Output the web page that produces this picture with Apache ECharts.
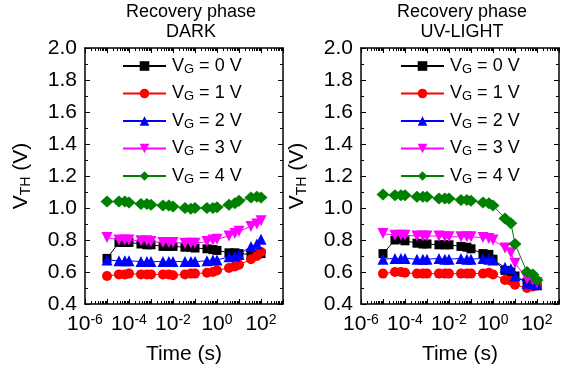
<!DOCTYPE html>
<html>
<head>
<meta charset="utf-8">
<script src="https://cdn.jsdelivr.net/npm/echarts@6/dist/echarts.min.js"></script>
<style>html,body{margin:0;padding:0;background:#fff;}#c{width:564px;height:369px;}</style>
</head>
<body>
<div id="c"></div>
<script>
// ---- data ----
var times = [1e-5, 3.5e-5, 6.5e-5, 1e-4, 3.5e-4, 6.5e-4, 1e-3, 3.5e-3, 6.5e-3, 1e-2, 3.5e-2, 6.5e-2, 1e-1, 0.35, 0.65, 1, 3.5, 6.5, 10, 35, 65, 100];
var seriesNames = ['0', '1', '2', '3', '4'];
var xLabelValues = [1e-6, 1e-4, 1e-2, 1, 100];
var yTickLabels = [0.4, 0.6, 0.8, 1.0, 1.2, 1.4, 1.6, 1.8, 2.0];
var panelTitles = ['Recovery phase\nDARK', 'Recovery phase\nUV-LIGHT'];

var dark0 = [0.685, 0.785, 0.785, 0.785, 0.775, 0.77, 0.77, 0.76, 0.76, 0.76, 0.755, 0.755, 0.75, 0.745, 0.74, 0.735, 0.72, 0.72, 0.715, 0.71, 0.71, 0.715];
var dark1 = [0.575, 0.585, 0.585, 0.59, 0.585, 0.585, 0.585, 0.585, 0.585, 0.58, 0.585, 0.59, 0.59, 0.595, 0.60, 0.61, 0.625, 0.635, 0.645, 0.68, 0.70, 0.725];
var dark2 = [0.675, 0.67, 0.67, 0.67, 0.665, 0.665, 0.665, 0.665, 0.665, 0.665, 0.665, 0.665, 0.665, 0.67, 0.675, 0.675, 0.695, 0.70, 0.71, 0.76, 0.775, 0.805];
var dark3 = [0.815, 0.80, 0.80, 0.80, 0.795, 0.795, 0.79, 0.785, 0.785, 0.785, 0.78, 0.78, 0.78, 0.79, 0.80, 0.805, 0.825, 0.84, 0.855, 0.885, 0.90, 0.92];
var dark4 = [1.04, 1.04, 1.04, 1.035, 1.025, 1.025, 1.02, 1.015, 1.015, 1.01, 1.0, 0.995, 1.0, 1.0, 1.0, 1.005, 1.02, 1.03, 1.045, 1.065, 1.07, 1.065];

var uv0 = [0.715, 0.80, 0.805, 0.795, 0.78, 0.775, 0.775, 0.77, 0.77, 0.77, 0.76, 0.755, 0.745, 0.715, 0.71, 0.68, 0.61, 0.60, 0.575, 0.535, 0.52, 0.52];
var uv1 = [0.59, 0.60, 0.60, 0.595, 0.59, 0.59, 0.59, 0.59, 0.59, 0.59, 0.59, 0.59, 0.59, 0.59, 0.595, 0.585, 0.55, 0.545, 0.52, 0.50, 0.51, 0.515];
var uv2 = [0.68, 0.685, 0.685, 0.685, 0.68, 0.68, 0.68, 0.685, 0.68, 0.68, 0.685, 0.68, 0.68, 0.685, 0.68, 0.675, 0.63, 0.62, 0.575, 0.53, 0.525, 0.52];
var uv3 = [0.84, 0.83, 0.83, 0.83, 0.825, 0.825, 0.825, 0.825, 0.82, 0.82, 0.82, 0.82, 0.82, 0.815, 0.81, 0.80, 0.75, 0.72, 0.655, 0.56, 0.55, 0.535];
var uv4 = [1.085, 1.08, 1.08, 1.08, 1.07, 1.07, 1.07, 1.06, 1.06, 1.06, 1.05, 1.05, 1.045, 1.035, 1.03, 1.015, 0.935, 0.905, 0.775, 0.60, 0.585, 0.55];

var panels = [[dark0, dark1, dark2, dark3, dark4], [uv0, uv1, uv2, uv3, uv4]];

// ---- styling ----
var FONT = 'Liberation Sans, Arial, sans-serif';
var colors = ['#000000', '#ff0000', '#0000ff', '#ff00ff', '#008000'];
var symbols = ['rect', 'circle', 'triangle', 'triangle', 'diamond'];
var symRot = [0, 0, 0, 180, 0];
var symSize = [9, 10, 11, 11, [13, 12]];
var gridLefts = [85, 361];
var legendLefts = [122, 400];
var titleCenters = [191, 462];

// axis tick positions (decoration)
var majorTicks = [], minorTicks = [];
for (var e = -6; e <= 3; e++) {
  majorTicks.push(Math.pow(10, e));
  if (e < 3) for (var m = 2; m <= 9; m++) minorTicks.push(m * Math.pow(10, e));
}

function zip(xs, ys) { return xs.map(function (x, i) { return [x, ys[i]]; }); }

var option = {
  animation: false,
  backgroundColor: '#ffffff',
  textStyle: { fontFamily: FONT },
  title: [], legend: [], grid: [], xAxis: [], yAxis: [], series: []
};

var black = { color: '#000' };
for (var g = 0; g < 2; g++) {
  option.title.push({
    text: panelTitles[g], left: titleCenters[g], top: 0, textAlign: 'center', padding: [2, 0, 0, 0],
    textStyle: { fontFamily: FONT, fontSize: 18, fontWeight: 'normal', color: '#000', lineHeight: 20 }
  });
  option.grid.push({ left: gridLefts[g], top: 48, width: 198, height: 256, containLabel: false, outerBoundsMode: 'none' });
  var base = { type: 'log', logBase: 10, min: 1e-6, max: 1e3, gridIndex: g, splitLine: { show: false } };
  // bottom major (with labels)
  option.xAxis.push(Object.assign({}, base, {
    position: 'bottom',
    axisLine: { show: true, onZero: false, lineStyle: { color: '#000', width: 1.5 } },
    axisTick: { show: true, inside: true, length: 5, customValues: majorTicks, lineStyle: black },
    axisLabel: {
      customValues: xLabelValues, margin: 9, color: '#000', fontFamily: FONT, fontSize: 21,
      formatter: function (v) { return '10{sup|' + Math.round(Math.log10(v)) + '}'; },
      rich: { sup: { fontSize: 14, verticalAlign: 'top', padding: [0, 0, 9, 0], fontFamily: FONT, color: '#000' } }
    },
    name: 'Time (s)', nameLocation: 'middle', nameGap: 40,
    nameTextStyle: { fontSize: 21, color: '#000', fontFamily: FONT }
  }));
  // bottom minor
  option.xAxis.push(Object.assign({}, base, {
    position: 'bottom', axisLine: { show: false }, axisLabel: { show: false },
    axisTick: { show: true, inside: true, length: 3, customValues: minorTicks, lineStyle: black }
  }));
  // top major
  option.xAxis.push(Object.assign({}, base, {
    position: 'top', axisLine: { show: true, onZero: false, lineStyle: { color: '#000', width: 1.5 } }, axisLabel: { show: false },
    axisTick: { show: true, inside: true, length: 5, customValues: majorTicks, lineStyle: black }
  }));
  // top minor
  option.xAxis.push(Object.assign({}, base, {
    position: 'top', axisLine: { show: false }, axisLabel: { show: false },
    axisTick: { show: true, inside: true, length: 3, customValues: minorTicks, lineStyle: black }
  }));
  var ybase = { type: 'value', min: 0.4, max: 2.0, interval: 0.2, gridIndex: g, splitLine: { show: false },
    minorTick: { show: true, splitNumber: 2, length: 3, lineStyle: black },
    axisTick: { show: true, inside: true, length: 5, lineStyle: black },
    axisLine: { show: true, onZero: false, lineStyle: { color: '#000', width: 1.5 } } };
  option.yAxis.push(Object.assign({}, ybase, {
    position: 'left',
    axisLabel: { customValues: yTickLabels, color: '#000', fontFamily: FONT, fontSize: 21, margin: 8,
      formatter: function (v) { return v.toFixed(1); } },
    name: 'V{sub|TH} (V)', nameLocation: 'middle', nameGap: 52, nameRotate: 90,
    nameTextStyle: { fontSize: 21, color: '#000', fontFamily: FONT,
      rich: { sub: { fontSize: 14, verticalAlign: 'bottom', padding: [9, 0, 0, 0], fontFamily: FONT, color: '#000' } } }
  }));
  option.yAxis.push(Object.assign({}, ybase, { position: 'right', axisLabel: { show: false } }));

  var names = [];
  for (var s = 0; s < 5; s++) {
    var nm = seriesNames[s] + (g === 0 ? '' : ' ');
    names.push(nm);
    option.series.push({
      type: 'line', name: nm, xAxisIndex: g * 4, yAxisIndex: g * 2,
      data: zip(times, panels[g][s]),
      symbol: symbols[s], symbolRotate: symRot[s], symbolSize: symSize[s],
      itemStyle: { color: colors[s] }, lineStyle: { color: colors[s], width: 1 },
      showSymbol: true, z: 2 + s
    });
  }
  option.legend.push({
    data: names, orient: 'vertical', left: legendLefts[g], top: 57, padding: 0,
    itemWidth: 43, itemHeight: 12, itemGap: 9, selectedMode: false,
    formatter: function (n) { return 'V{sub|G} = ' + n.trim() + ' V'; },
    textStyle: { fontSize: 18, color: '#000', fontFamily: FONT, padding: [0, 0, 0, 1],
      rich: { sub: { fontSize: 13, verticalAlign: 'bottom', padding: [6, 0, 0, 0], fontFamily: FONT, color: '#000' } } }
  });
}

var chart = echarts.init(document.getElementById('c'), null, { renderer: 'canvas' });
chart.setOption(option);
</script>
</body>
</html>
